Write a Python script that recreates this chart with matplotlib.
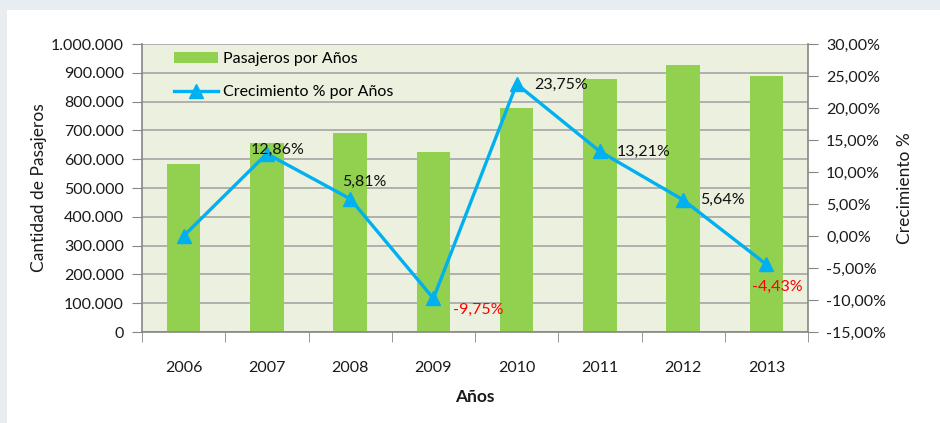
import matplotlib
matplotlib.use("Agg")
import matplotlib.pyplot as plt
from matplotlib.patches import Rectangle
from matplotlib.ticker import FuncFormatter, MultipleLocator, FixedLocator

years = ["2006", "2007", "2008", "2009", "2010", "2011", "2012", "2013"]
pasajeros = [583000, 656000, 691000, 625000, 778000, 878000, 927000, 888000]
crecimiento = [0.00, 12.86, 5.81, -9.75, 23.75, 13.21, 5.64, -4.43]
label_text = ["", "12,86%", "5,81%", "-9,75%", "23,75%", "13,21%", "5,64%", "-4,43%"]

plt.rcParams['font.family'] = ['Lato', 'DejaVu Sans']

fig = plt.figure(figsize=(9.4, 4.23), dpi=100)
fig.patch.set_facecolor("#E8EDF2")
fig.patches.append(Rectangle((7/940, 0), 1, (423-10)/423, transform=fig.transFigure,
                             facecolor="white", edgecolor="none", zorder=-10))

ax = fig.add_axes([142/940, (423-332)/423, 666/940, 288/423])
ax.set_facecolor("#EBF1DE")
x = list(range(len(years)))
bars = ax.bar(x, pasajeros, width=0.4, color="#92D050", zorder=2, label="Pasajeros por Años")
ax.set_xlim(-0.5, len(years) - 0.5)
ax.set_ylim(0, 1000000)
ax.yaxis.set_major_locator(MultipleLocator(100000))
ax.yaxis.set_major_formatter(FuncFormatter(lambda v, p: f"{int(v):,}".replace(",", ".")))
ax.grid(axis="y", color="#A6A6A6", linewidth=1.2, zorder=1)
ax.set_axisbelow(True)
ax.set_xticks(x)
ax.set_xticklabels(years)
ax.xaxis.set_minor_locator(FixedLocator([i - 0.5 for i in range(len(years) + 1)]))
ax.tick_params(axis="x", which="major", length=0, pad=21, labelsize=11.5, colors="#1a1a1a")
ax.tick_params(axis="x", which="minor", length=7, color="#868686", direction="out")
ax.tick_params(axis="y", length=7, color="#868686", labelsize=11.5, labelcolor="#1a1a1a", pad=6)
for s in ["top", "right"]:
    ax.spines[s].set_visible(False)
for s in ["left", "bottom"]:
    ax.spines[s].set_color("#868686")
    ax.spines[s].set_linewidth(1.2)
ax.set_ylabel("Cantidad de Pasajeros", fontsize=12.5, color="#1a1a1a", labelpad=3)
ax.set_xlabel("Años", fontsize=12.5, fontweight="bold", color="#1a1a1a", labelpad=10)

ax2 = ax.twinx()
ax2.set_ylim(-15, 30)
ax2.yaxis.set_major_locator(MultipleLocator(5))
ax2.yaxis.set_major_formatter(FuncFormatter(lambda v, p: f"{v:.2f}".replace(".", ",").replace("\u2212", "-") + "%"))
line, = ax2.plot(x, crecimiento, color="#00B0F0", linewidth=2.4, marker="^", markersize=10,
                 zorder=4, label="Crecimiento % por Años")
for s in ["top", "left", "bottom"]:
    ax2.spines[s].set_visible(False)
ax2.spines["right"].set_color("#868686")
ax2.spines["right"].set_linewidth(1.2)
ax2.tick_params(axis="y", length=7, color="#868686", labelsize=11.5, labelcolor="#1a1a1a", pad=6)
ax2.set_ylabel("Crecimiento %", fontsize=12.5, color="#1a1a1a", labelpad=8)

offsets = [(0, 0), (8, 3), (10, 12), (14, -8), (13, -1), (12, 0), (12, 0), (8, -16)]
aligns = ["center", "center", "center", "left", "left", "left", "left", "center"]
for i, (t, v) in enumerate(zip(label_text, crecimiento)):
    if not t:
        continue
    dx, dy = offsets[i]
    col = "#FF0000" if v < 0 else "#111111"
    ax2.annotate(t, (i, v), xytext=(dx, dy), textcoords="offset points",
                 ha=aligns[i], va="center", fontsize=11.5, color=col, zorder=5)

leg = ax2.legend([bars, line], ["Pasajeros por Años", "Crecimiento % por Años"],
                 loc="upper left", bbox_to_anchor=(20/666, 1.015), frameon=False, fontsize=11.5,
                 borderpad=0.25, labelspacing=1.2, handlelength=2.75, handletextpad=0.3)

fig.savefig("out.png", dpi=100, facecolor=fig.get_facecolor())
